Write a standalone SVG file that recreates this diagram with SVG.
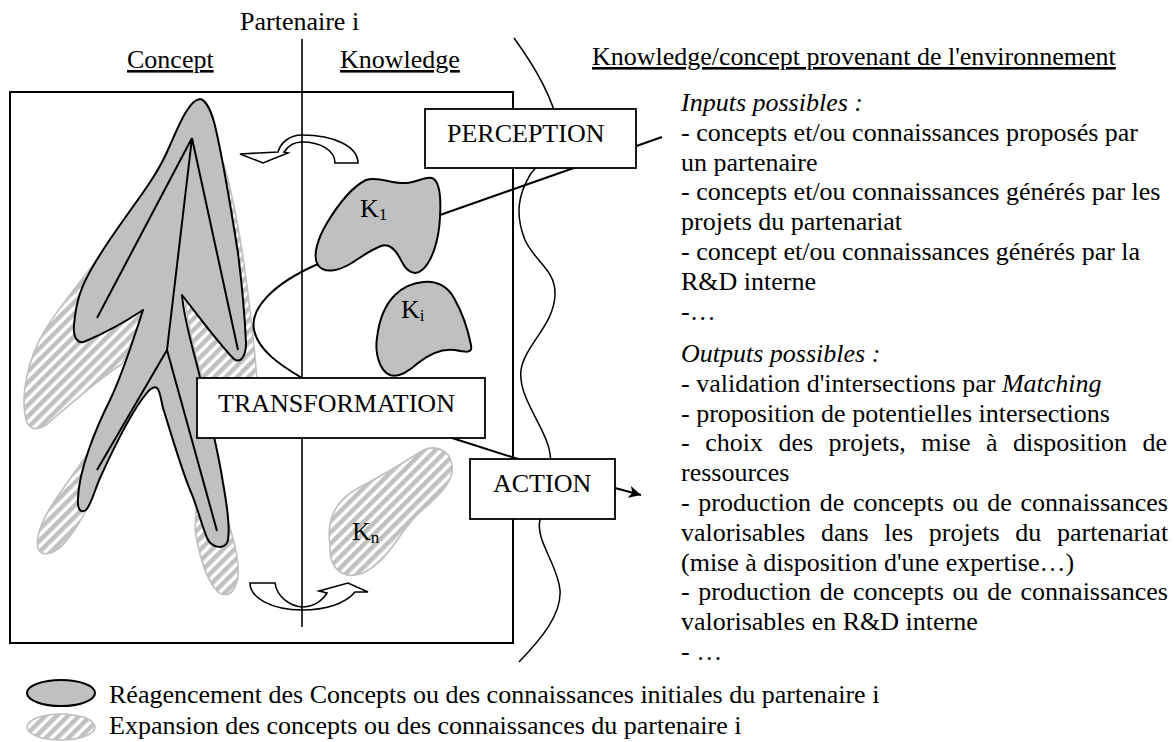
<svg xmlns="http://www.w3.org/2000/svg" width="1174" height="742" viewBox="0 0 1174 742">
<style>
text{font-family:"Liberation Serif","Times New Roman",serif;font-size:26px;fill:#000}
.it{font-style:italic}
.ul{text-decoration:underline}
.sub{font-size:17px}
.box{fill:#fff;stroke:#000;stroke-width:1.8}
.solid{fill:#c0c0c0;stroke:#000;stroke-width:2;stroke-linejoin:round}
.hatch{fill:url(#hatch);stroke:#c0c0c0;stroke-width:1.6}
.ln{fill:none;stroke:#000;stroke-width:2}
.thin{fill:none;stroke:#000;stroke-width:1.5}
.carrow{fill:#fff;stroke:#000;stroke-width:1.6;stroke-linejoin:miter}
</style>
<defs>
<pattern id="hatch" patternUnits="userSpaceOnUse" width="8" height="8" patternTransform="rotate(45)">
<rect width="8" height="8" fill="#fff"/>
<rect x="0" y="0" width="4.5" height="8" fill="#c0c0c0"/>
</pattern>
<marker id="ah" markerUnits="userSpaceOnUse" markerWidth="14" markerHeight="12" refX="12" refY="6" orient="auto">
<path d="M0,0 L12,6 L0,12 L3,6 Z" fill="#000"/>
</marker>
</defs>
<rect width="1174" height="742" fill="#fff"/>

<text x="240" y="30">Partenaire i</text>
<text x="127" y="68" class="ul">Concept</text>
<text x="340" y="68" class="ul">Knowledge</text>
<text x="592" y="65" class="ul">Knowledge/concept provenant de l'environnement</text>

<g id="frame">
<rect x="10" y="92" width="503" height="551" fill="none" stroke="#000" stroke-width="2"/>
</g>

<g id="expansion">
<path class="hatch" d="M 135,210 C 115,240 70,290 45,330 C 28,358 20,395 26,420 C 30,433 42,430 52,420 C 75,400 100,378 122,364 L 150,300 Z"/>
<path class="hatch" d="M 112,418 C 95,445 68,480 50,508 C 38,528 33,548 42,553 C 55,558 72,538 86,510 L 108,460 Z"/>
<path class="hatch" d="M 224,165 C 240,220 250,300 257,378 C 258,410 240,430 225,420 C 205,400 190,340 185,300 Z"/>
<path class="hatch" d="M 200,450 C 212,480 235,530 238,565 C 240,590 228,600 218,592 C 208,582 200,560 195,530 Z"/>
</g>

<g id="concept">
<path class="solid" d="M 200,99 C 206,100 212,112 216,130 C 224,165 232,215 238,253 C 242,285 245,320 246,343 C 246,357 240,364 234,359 C 220,345 200,318 182,295 C 184,320 192,345 200,377 C 208,410 218,450 223,483 C 227,505 230,528 228,540 C 226,550 212,549 207,538 C 200,520 195,500 190,490 C 180,465 170,430 163,408 C 161,400 160,390 157,388 C 154,386 150,389 146,394 C 133,410 115,445 100,478 C 94,492 91,505 86,510 C 80,514 77,508 78,498 C 79,470 95,430 110,400 C 122,375 135,335 143,310 C 125,322 100,335 86,341 C 78,345 73,338 74,325 C 76,300 82,285 92,268 C 105,245 118,228 132,208 C 145,190 158,172 167,152 C 177,130 188,100 200,99 Z"/>
<path class="ln" d="M 192,138 L 97,318 M 192,138 L 167,350 M 192,138 L 238,350 M 167,350 L 97,470 M 167,350 L 217,531"/>
</g>

<g id="connectors">
<path class="ln" d="M 440,215 L 662,137"/>
<path class="ln" d="M 318,264 C 270,285 250,310 254,330 C 258,350 280,365 302,378"/>
<path class="ln" d="M 452,438 L 518,459"/>
<path class="ln" d="M 615,488 L 641,495" marker-end="url(#ah)"/>
<path class="thin" d="M 514,38 C 530,60 552,95 558,125 C 562,150 540,160 530,175 C 518,195 515,215 525,240 C 535,262 556,270 555,295 C 554,325 525,345 521,370 C 518,395 540,420 548,445 C 556,470 545,500 540,520 C 535,540 558,565 560,590 C 562,615 540,640 519,662"/>
</g>

<g id="arrow-top">
<path class="carrow" d="M 335,163 L 358,163 C 358,147 335,135 302,135 C 290,135 281,142 278,152 L 240,154 L 263,163 L 288,153 L 284,152 C 288,146 295,142 302,142 C 320,142 335,150 335,163 Z"/>
</g>
<g id="arrow-bottom">
<path class="carrow" d="M 250,583 L 275,583 C 277,597 290,606 302,607 C 313,607 322,601 327,593 L 319,591 L 348,583 L 368,592 L 355,592 C 345,604 325,610 302,610 C 272,610 250,598 250,583 Z"/>
</g>

<line x1="302" y1="39" x2="302" y2="627" stroke="#000" stroke-width="1.6"/>

<g id="k1">
<path class="solid" d="M 366,180 C 378,176 392,184 406,183 C 418,182 426,176 432,178 C 440,181 441,200 440,217 C 439,240 432,262 422,270 C 414,277 406,270 402,262 C 396,250 390,243 381,246 C 370,250 360,258 350,264 C 338,271 324,274 318,265 C 312,256 318,238 327,223 C 336,208 350,188 366,180 Z"/>
<text x="360" y="217">K<tspan class="sub" dy="3">1</tspan></text>
</g>
<g id="ki">
<path class="solid" d="M 423,282 C 437,280 448,287 454,298 C 462,312 468,330 471,345 C 473,354 465,352 455,350 C 440,348 428,355 418,363 C 408,372 398,378 390,375 C 378,370 375,350 377,338 C 379,320 385,305 395,295 C 403,287 413,283 423,282 Z"/>
<text x="401" y="318">K<tspan class="sub" dy="3">i</tspan></text>
</g>
<g id="kn">
<path class="hatch" d="M 330,545 C 326,520 335,500 360,487 C 385,474 400,465 420,452 C 435,443 450,450 452,465 C 455,480 440,495 420,512 C 400,530 390,560 363,573 C 345,580 328,570 330,545 Z"/>
<text x="352" y="540">K<tspan class="sub" dy="3">n</tspan></text>
</g>

<g id="perception">
<rect class="box" x="425" y="109" width="211" height="59"/>
<text x="447" y="142">PERCEPTION</text>
</g>
<g id="transformation">
<rect class="box" x="197" y="378" width="288" height="60"/>
<text x="218" y="412">TRANSFORMATION</text>
</g>
<g id="action">
<rect class="box" x="470" y="459" width="145" height="60"/>
<text x="493" y="492">ACTION</text>
</g>

<g id="notes">
<text x="681" y="111" class="it">Inputs possibles :</text>
<text x="681" y="141">- concepts et/ou connaissances proposés par</text>
<text x="681" y="170.6">un partenaire</text>
<text x="681" y="200.4">- concepts et/ou connaissances générés par les</text>
<text x="681" y="230">projets du partenariat</text>
<text x="681" y="260">- concept et/ou connaissances générés par la</text>
<text x="681" y="290">R&amp;D interne</text>
<text x="681" y="320">-…</text>
<text x="681" y="362" class="it">Outputs possibles :</text>
<text x="681" y="392">- validation d'intersections par <tspan class="it">Matching</tspan></text>
<text x="681" y="421.6">- proposition de potentielles intersections</text>
<text x="681" y="451.4" word-spacing="9">- choix des projets, mise à disposition de</text>
<text x="681" y="481">ressources</text>
<text x="681" y="511" word-spacing="2.2">- production de concepts ou de connaissances</text>
<text x="681" y="541" word-spacing="9.2">valorisables dans les projets du partenariat</text>
<text x="681" y="570.6">(mise à disposition d'une expertise…)</text>
<text x="681" y="600.4" word-spacing="2.2">- production de concepts ou de connaissances</text>
<text x="681" y="630">valorisables en R&amp;D interne</text>
<text x="681" y="660">- …</text>
</g>

<g id="legend">
<ellipse cx="61" cy="693" rx="34" ry="13" class="solid"/>
<text x="109" y="703">Réagencement des Concepts ou des connaissances initiales du partenaire i</text>
<ellipse cx="61" cy="727" rx="34" ry="13" class="hatch"/>
<text x="109" y="734">Expansion des concepts ou des connaissances du partenaire i</text>
</g>
</svg>
